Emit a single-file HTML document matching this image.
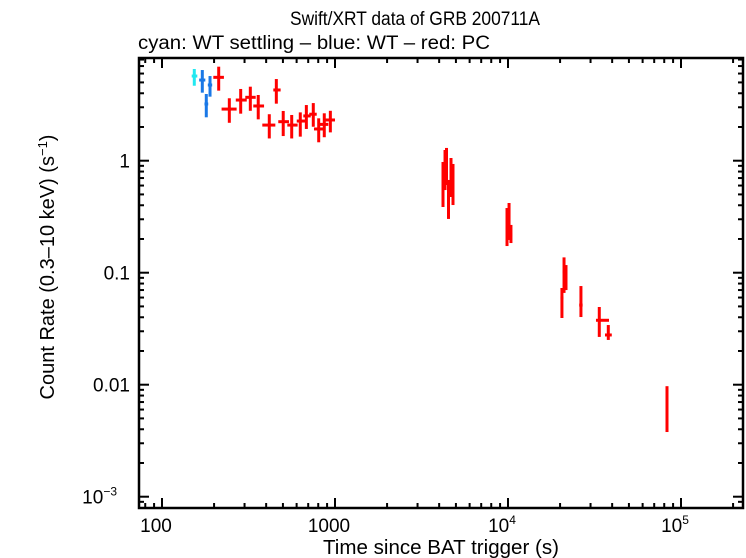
<!DOCTYPE html>
<html><head><meta charset="utf-8"><style>
html,body{margin:0;padding:0;background:#fff;}
svg{display:block;font-family:"Liberation Sans",sans-serif;}
</style></head><body>
<svg id="chart" width="746" height="558" viewBox="0 0 746 558" xmlns="http://www.w3.org/2000/svg">
<text x="415" y="25" font-size="19" text-anchor="middle" textLength="250" lengthAdjust="spacingAndGlyphs">Swift/XRT data of GRB 200711A</text>
<text x="138" y="49" font-size="19" textLength="352" lengthAdjust="spacingAndGlyphs">cyan: WT settling – blue: WT – red: PC</text>
<g id="axes"></g>
<g id="marks"></g>
<text x="441" y="554" font-size="20" text-anchor="middle" textLength="236" lengthAdjust="spacingAndGlyphs">Time since BAT trigger (s)</text>
<text transform="translate(54,267) rotate(-90)" font-size="20" text-anchor="middle">Count Rate (0.3–10 keV) (s<tspan dy="-7" font-size="13">−1</tspan><tspan dy="7">)</tspan></text>
</svg>
<script>
const cyanT=[153.7], cyanTlo=[148.5], cyanThi=[160], cyanR=[5.70], cyanRlo=[4.67], cyanRhi=[6.59];
const blueT=[171,189.5,180.3], blueTlo=[164,184,176], blueThi=[178,195,185];
const blueR=[5.25,4.74,3.21], blueRlo=[4.05,3.73,2.44], blueRhi=[6.45,5.70,3.94];
const redT=[212.7,245,285,324,360,417,458,502,562,630,683,749,805,867,940,
 4210,4325,4410,4530,4683,4810,9870,10140,10400,20500,21080,21640,26400,33700,38000,83000];
const redTlo=[198,221,267,303,337,380,440,470,530,601,656,710,756,819,875,
 4140,4250,4330,4450,4600,4720,9700,9980,10250,20100,20700,21300,25800,32250,36360,82000];
const redThi=[228,270,309,348,389,452,485,542,608,671,724,784,864,915,1000,
 4280,4400,4490,4610,4770,4900,10040,10300,10560,20900,21460,22000,27000,38350,39800,84000];
const redR=[5.55,2.89,3.48,3.68,3.08,2.08,4.28,2.23,2.08,2.26,2.51,2.60,1.92,2.11,2.31,
 0.607,0.861,0.974,0.494,0.793,0.730,0.251,0.267,0.217,0.0594,0.1014,0.0955,0.0514,0.0376,0.0278,0.00619];
const redRlo=[4.22,2.18,2.63,2.79,2.34,1.58,3.23,1.66,1.58,1.64,1.92,2.01,1.46,1.62,1.79,
 0.386,0.547,0.607,0.302,0.474,0.402,0.173,0.196,0.184,0.0394,0.066,0.070,0.0402,0.0267,0.0251,0.00378];
const redRhi=[6.91,3.61,4.37,4.58,3.86,2.60,5.36,2.78,2.56,2.70,3.14,3.27,2.39,2.65,2.79,
 0.974,1.246,1.30,0.673,1.057,0.935,0.378,0.419,0.267,0.073,0.137,0.117,0.076,0.0494,0.0341,0.0097];
const xMajor=[100,1000,10000,100000];
const xLabels=["100","1000","10^4","10^5"];
const yMajor=[1,0.1,0.01,0.001];
const yLabels=["1","0.1","0.01","10^-3"];

const L=139,R=743,T=58,B=508;
const X=t=>162+173*Math.log10(t/100);
const Y=r=>160.7-112*Math.log10(r);
const NS="http://www.w3.org/2000/svg";
function mk(tag,attrs,parent){const e=document.createElementNS(NS,tag);for(const k in attrs)e.setAttribute(k,attrs[k]);parent.appendChild(e);return e;}
const ax=document.getElementById('axes');
const frame=mk('rect',{x:L,y:T,width:R-L,height:B-T,fill:'none',stroke:'#000','stroke-width':2.5},ax);


for(let d=1;d<=6;d++){for(let m=1;m<10;m++){const t=Math.pow(10,d)*m;const x=X(t);if(x<L+1||x>R-1)continue;const len=m===1?10:5;
 mk('line',{x1:x,y1:B,x2:x,y2:B-len,stroke:'#000','stroke-width':2},ax);
 mk('line',{x1:x,y1:T,x2:x,y2:T+len,stroke:'#000','stroke-width':2},ax);}}
for(let e=-4;e<=1;e++){for(let m=1;m<10;m++){const r=Math.pow(10,e)*m;const y=Y(r);if(y<T+1||y>B-1)continue;const len=m===1?10:5;
 mk('line',{x1:L,y1:y,x2:L+len,y2:y,stroke:'#000','stroke-width':2},ax);
 mk('line',{x1:R,y1:y,x2:R-len,y2:y,stroke:'#000','stroke-width':2},ax);}}
function lab(str,x,y,anchor,name){const tx=mk('text',{x:x,y:y,'font-size':19,'text-anchor':anchor},ax);
 
 
 const p=str.split('^');tx.textContent=p[0];if(p[1]){const s=mk('tspan',{dy:-8,'font-size':12},tx);s.textContent=p[1].replace('-','−');}}
xMajor.forEach((t,i)=>lab(xLabels[i],X(t)-6,532,'middle','x-tick-label'));
yMajor.forEach((r,i)=>lab(yLabels[i],yLabels[i].includes('^')?117:130,Y(r)+7,'end','y-tick-label'));
const mg=document.getElementById('marks');
function series(T_,Tl,Th,Rv,Rl,Rh,col,name){const g=mk('g',{stroke:col,'stroke-width':3},mg);
 
 
 T_.forEach((t,i)=>{const l1=mk('line',{x1:X(Tl[i]),x2:X(Th[i]),y1:Y(Rv[i]),y2:Y(Rv[i])},g);
  
  
  const l2=mk('line',{x1:X(t),x2:X(t),y1:Y(Rl[i]),y2:Y(Rh[i])},g);
  
  });}
series(redT,redTlo,redThi,redR,redRlo,redRhi,'#ff0000','pc-series');
series(blueT,blueTlo,blueThi,blueR,blueRlo,blueRhi,'#1a78e6','wt-series');
series(cyanT,cyanTlo,cyanThi,cyanR,cyanRlo,cyanRhi,'#22e8f0','wt-settling-series');
</script>
</body></html>
